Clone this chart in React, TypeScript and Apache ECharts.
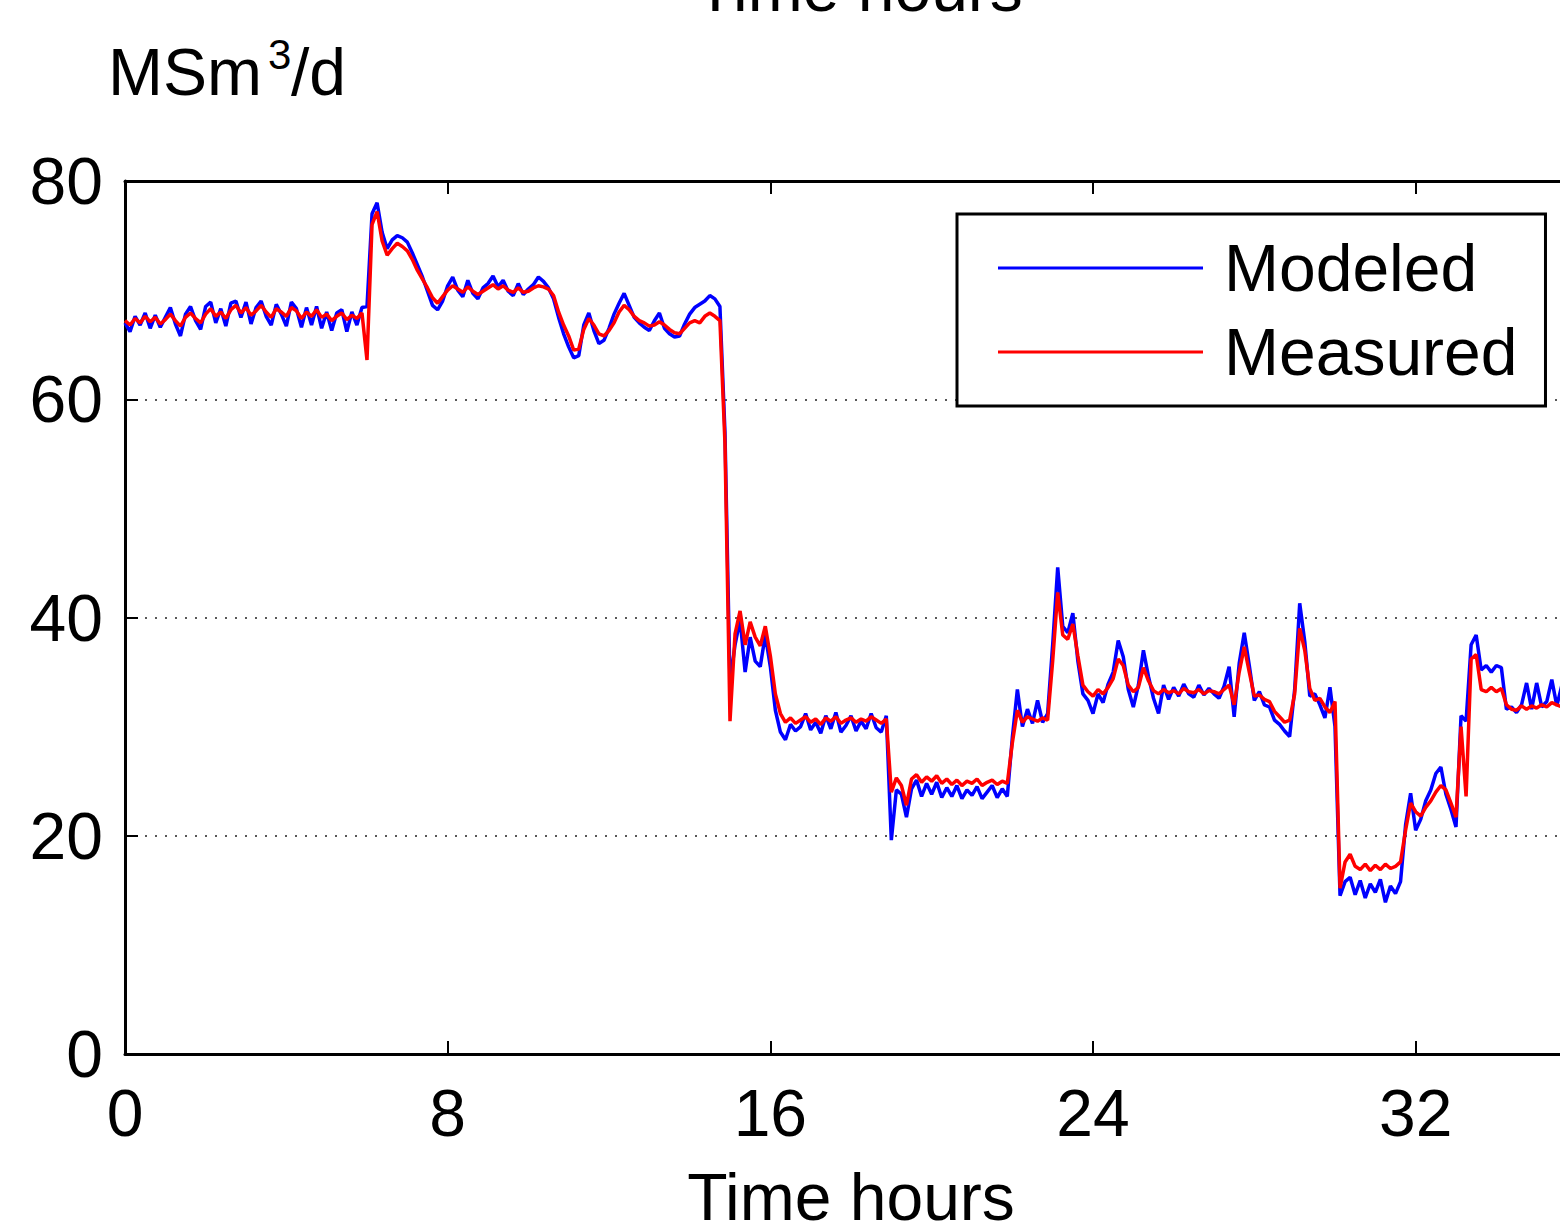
import React, { useEffect, useRef } from "react";
import * as echarts from "echarts";

// Sampling step of the series (hours)
const STEP_HOURS = 0.125;
const X_TICKS = [0, 8, 16, 24, 32];
const SERIES_NAMES = ["Modeled", "Measured"];
const X_NAME = "Time hours";
const TOP_TITLE = "Time hours";

// Measured flow, MSm3/d, one row per hour (8 samples per hour)
const measured = [
  67.2, 66.8, 67.4, 67.0, 67.6, 67.1, 67.5, 66.9,
  67.3, 67.8, 67.2, 66.7, 67.5, 67.9, 67.4, 67.0,
  67.8, 68.3, 67.6, 68.0, 67.4, 68.2, 68.6, 67.9,
  68.4, 67.7, 68.1, 68.6, 68.0, 67.5, 68.3, 68.0,
  67.6, 68.4, 68.1, 67.4, 68.0, 67.6, 68.2, 67.5,
  67.8, 67.2, 67.6, 67.9, 67.3, 67.7, 67.4, 67.9,
  63.6, 76.0, 77.2, 74.5, 73.2, 73.8, 74.3, 74.0,
  73.6, 72.8, 71.8, 71.0, 70.2, 69.3, 68.8, 69.4,
  70.0, 70.4, 70.1, 69.8, 70.3, 69.9, 69.6, 69.9,
  70.2, 70.5, 70.1, 70.4, 70.0, 69.8, 70.2, 69.8,
  69.9, 70.2, 70.4, 70.3, 70.1, 69.5, 68.0, 66.8,
  65.8, 64.5, 64.6, 66.4, 67.4, 66.8, 66.0, 65.8,
  66.3, 67.0, 68.0, 68.6, 68.2, 67.6, 67.2, 67.0,
  66.7, 66.8, 67.1, 66.8, 66.4, 66.1, 66.0, 66.5,
  67.0, 67.2, 67.0, 67.6, 67.9, 67.6, 67.2, 56.0,
  30.5, 38.5, 40.6, 37.5, 39.6, 38.2, 37.4, 39.2,
  36.5, 33.0, 31.2, 30.4, 30.8, 30.3, 30.6, 30.9,
  30.4, 30.7, 30.2, 30.8, 30.5, 30.9, 30.3, 30.6,
  30.8, 30.4, 30.7, 30.5, 30.9, 30.6, 30.3, 30.7,
  24.0, 25.3, 24.6, 22.8, 25.2, 25.6, 24.9, 25.4,
  25.0, 25.5, 24.8, 25.2, 24.7, 25.1, 24.6, 25.0,
  24.8, 25.2, 24.6, 24.9, 25.1, 24.7, 25.0, 24.8,
  28.5, 31.5, 30.4, 30.9, 30.7, 30.5, 30.8, 30.6,
  36.0, 42.3, 38.4, 38.0, 39.4, 36.5, 33.8, 33.2,
  32.8, 33.4, 33.0, 33.6, 34.4, 36.2, 35.6, 33.8,
  33.2, 33.6, 35.4, 34.2, 33.3, 33.0, 33.4, 33.1,
  33.3, 33.0, 33.5, 33.2, 33.1, 33.4, 33.0, 33.3,
  33.2, 33.0, 33.4, 33.8, 32.0, 35.0, 37.3, 35.0,
  32.8, 32.9, 32.5, 32.3, 31.4, 30.9, 30.4, 30.6,
  33.0, 39.0, 37.0, 33.5, 32.4, 32.6, 31.8, 31.3,
  32.3, 15.2, 17.6, 18.3, 17.2, 16.9, 17.4, 16.8,
  17.3, 16.9, 17.4, 17.0, 17.2, 17.6, 20.5, 23.0,
  22.2, 21.8, 22.6, 23.2, 24.0, 24.6, 24.2, 23.0,
  21.7, 30.0, 23.6, 36.2, 36.6, 33.4, 33.2, 33.6,
  33.2, 33.5, 32.0, 31.6, 31.5, 31.9, 31.6, 31.9,
  31.7, 32.0, 31.8, 32.2, 32.0, 31.8, 32.1, 31.9,
  32.0,
];

// Modeled flow, MSm3/d, same sampling
const modeled = [
  67.0, 66.2, 67.6, 66.8, 67.9, 66.5, 67.7, 66.6,
  67.5, 68.4, 66.9, 65.8, 67.8, 68.5, 67.2, 66.4,
  68.5, 68.9, 67.0, 68.3, 66.7, 68.8, 69.0, 67.5,
  68.9, 66.9, 68.4, 69.0, 67.6, 66.8, 68.7, 67.8,
  66.7, 68.9, 68.3, 66.6, 68.4, 66.8, 68.5, 66.5,
  68.0, 66.3, 67.9, 68.2, 66.2, 68.0, 66.8, 68.4,
  68.5, 77.0, 78.0, 75.3, 73.8, 74.6, 75.0, 74.8,
  74.4, 73.4, 72.3, 71.2, 69.9, 68.6, 68.2, 69.0,
  70.4, 71.2, 70.0, 69.4, 70.9, 69.7, 69.2, 70.2,
  70.6, 71.3, 70.3, 70.9, 69.9, 69.5, 70.6, 69.6,
  70.1, 70.5, 71.2, 70.8, 70.2, 69.2, 67.5, 66.0,
  64.8, 63.8, 64.0, 66.8, 67.9, 66.3, 65.1, 65.4,
  66.5, 67.8, 68.8, 69.7, 68.6, 67.5, 67.0, 66.6,
  66.3, 67.2, 67.9, 66.5, 66.0, 65.7, 65.8, 66.9,
  67.8, 68.4, 68.7, 69.0, 69.5, 69.2, 68.5, 57.0,
  34.0, 37.5, 39.8, 35.0, 38.2, 36.0, 35.5, 38.4,
  35.5, 31.5, 29.5, 28.8, 30.2, 29.6, 30.0, 31.2,
  29.7, 30.4, 29.4, 31.0, 29.8, 31.3, 29.5, 30.1,
  31.0, 29.6, 30.5, 29.8, 31.2, 29.9, 29.5, 31.0,
  19.6, 24.2, 23.8, 21.7, 24.3, 25.1, 23.6, 24.8,
  23.8, 24.9, 23.5, 24.4, 23.6, 24.6, 23.4, 24.2,
  23.7, 24.5, 23.4, 24.0, 24.6, 23.5, 24.3, 23.6,
  29.0, 33.4, 30.0, 31.6, 30.3, 32.4, 30.4, 31.2,
  37.5, 44.6, 39.2, 38.6, 40.4, 36.0, 33.0, 32.4,
  31.2, 33.0, 32.2, 33.9, 35.0, 37.9, 36.4, 33.4,
  31.8, 33.8, 37.0, 34.6, 32.6, 31.2, 33.8, 32.5,
  33.6, 32.8, 33.9, 33.0, 32.7, 33.8, 32.9, 33.5,
  33.0, 32.6, 33.7, 35.5, 30.9, 35.8, 38.6, 35.6,
  32.4, 33.2, 32.0, 31.8, 30.6, 30.2, 29.6, 29.1,
  33.4, 41.3, 37.8, 32.8, 33.0, 32.0, 30.8, 33.6,
  30.0, 14.5, 15.8, 16.2, 14.6, 15.9, 14.3, 15.6,
  14.8, 16.0, 13.9, 15.4, 14.7, 15.8, 21.0, 23.9,
  20.5, 21.5, 23.2, 24.2, 25.7, 26.3, 23.8, 22.4,
  20.8, 31.0, 30.5, 37.5, 38.4, 35.2, 35.6, 35.0,
  35.6, 35.4, 31.6, 31.8, 31.3, 32.0, 34.0, 31.6,
  34.0, 31.8, 32.3, 34.3, 31.9, 33.8, 31.7, 32.4,
  32.0,
];

const FONT = '"Liberation Sans", Arial, Helvetica, sans-serif';

export default function App() {
  const ref = useRef<HTMLDivElement>(null);

  useEffect(() => {
    if (!ref.current) return;
    const chart = echarts.init(ref.current, null, { renderer: "svg" });
    const toPairs = (arr: number[]) => arr.map((v, i) => [i * STEP_HOURS, v]);

    const axisLine = { show: true, lineStyle: { color: "#000", width: 3 } };
    const axisTick = { show: true, inside: true, length: 13, lineStyle: { color: "#000", width: 2 } };

    chart.setOption({
      animation: false,
      backgroundColor: "#fff",
      grid: { left: 125, top: 181, right: 0, bottom: 170, containLabel: false },
      xAxis: [
        {
          type: "value",
          position: "bottom",
          min: 0,
          max: 36,
          interval: 8,
          axisLine,
          axisTick,
          axisLabel: {
            fontSize: 66,
            fontFamily: FONT,
            color: "#000",
            margin: 26,
            formatter: (v: number) => (X_TICKS.includes(v) ? String(v) : ""),
          },
          splitLine: { show: false },
        },
        {
          type: "value",
          position: "top",
          min: 0,
          max: 36,
          interval: 8,
          axisLine,
          axisTick,
          axisLabel: { show: false },
          splitLine: { show: false },
        },
      ],
      yAxis: {
        type: "value",
        min: 0,
        max: 80,
        interval: 20,
        axisLine,
        axisTick,
        axisLabel: { fontSize: 66, fontFamily: FONT, color: "#000", margin: 22 },
        splitLine: { show: true, lineStyle: { color: "#222", width: 1.5, type: [2, 8] } },
      },
      legend: {
        data: SERIES_NAMES,
        orient: "vertical",
        left: 957,
        top: 214,
        padding: [18, 28, 18, 41],
        itemGap: 12,
        itemWidth: 205,
        itemHeight: 3,
        icon: "rect",
        backgroundColor: "#fff",
        borderColor: "#000",
        borderWidth: 3,
        borderRadius: 0,
        textStyle: {
          fontSize: 66,
          fontFamily: FONT,
          color: "#000",
          lineHeight: 72,
          padding: [0, 0, 0, 16],
        },
      },
      series: [
        {
          name: SERIES_NAMES[0],
          type: "line",
          xAxisIndex: 0,
          data: toPairs(modeled),
          showSymbol: false,
          symbol: "none",
          lineStyle: { color: "#0000ff", width: 3.5 },
          itemStyle: { color: "#0000ff" },
          z: 2,
        },
        {
          name: SERIES_NAMES[1],
          type: "line",
          xAxisIndex: 0,
          data: toPairs(measured),
          showSymbol: false,
          symbol: "none",
          lineStyle: { color: "#ff0000", width: 3.5 },
          itemStyle: { color: "#ff0000" },
          z: 3,
        },
      ],
      graphic: [
        {
          type: "text",
          x: 859,
          y: -12,
          style: { text: TOP_TITLE, fontSize: 66, fontFamily: FONT, fill: "#000", align: "center", verticalAlign: "middle" },
        },
        {
          type: "text",
          x: 851,
          y: 1197,
          style: { text: X_NAME, fontSize: 66, fontFamily: FONT, fill: "#000", align: "center", verticalAlign: "middle" },
        },
        {
          type: "text",
          x: 108,
          y: 72,
          style: { text: "MSm", fontSize: 66, fontFamily: FONT, fill: "#000", align: "left", verticalAlign: "middle" },
        },
        {
          type: "text",
          x: 268,
          y: 54,
          style: { text: "3", fontSize: 42, fontFamily: FONT, fill: "#000", align: "left", verticalAlign: "middle" },
        },
        {
          type: "text",
          x: 291,
          y: 72,
          style: { text: "/d", fontSize: 66, fontFamily: FONT, fill: "#000", align: "left", verticalAlign: "middle" },
        },
      ],
    });

    return () => chart.dispose();
  }, []);

  return (
    <div
      ref={ref}
      style={{ position: "fixed", left: 0, top: 0, width: 1580, height: 1224, background: "#fff" }}
    />
  );
}
